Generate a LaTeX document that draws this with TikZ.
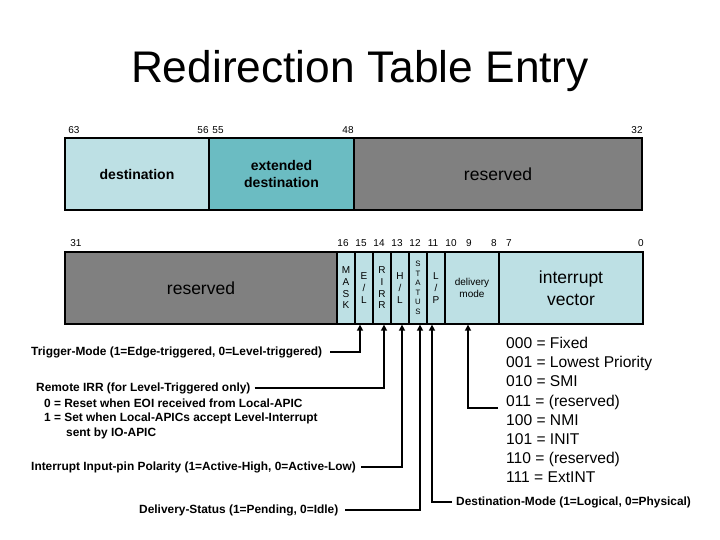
\documentclass[tikz,border=0pt]{standalone}
\usepackage{fontspec}
\setmainfont{Liberation Sans}
\usetikzlibrary{arrows.meta}
\definecolor{lightfld}{RGB}{189,224,228}
\definecolor{tealfld}{RGB}{107,188,194}
\definecolor{grayfld}{RGB}{128,128,128}
\begin{document}
\begin{tikzpicture}[x=1pt,y=-1pt,
  fld/.style={draw=black,line width=1.3pt,inner sep=0pt,align=center,minimum height=72pt},
  bitno/.style={font=\fontsize{10}{12}\selectfont,inner sep=0pt},
  bitlet/.style={font=\fontsize{10}{11.7}\selectfont,align=center,inner sep=0pt},
  lbl/.style={font=\bfseries\fontsize{11.9}{14.6}\selectfont,inner sep=0pt,anchor=west,align=left},
  legend/.style={font=\fontsize{15.6}{19}\selectfont,inner sep=0pt,anchor=base west},
  conn/.style={line width=1.5pt,-{Triangle[length=6pt,width=6pt]}}]
\useasboundingbox (0,0) rectangle (720,540);

\node[font=\fontsize{44.3}{50}\selectfont,inner sep=0pt] (title) at (360,71) {Redirection Table Entry};

% top row
\node[fld,fill=lightfld,minimum width=144pt,font=\bfseries\fontsize{14}{17}\selectfont] (dest) at (137,174) {destination};
\node[fld,fill=tealfld,minimum width=145pt,font=\bfseries\fontsize{14}{17}\selectfont] (ext) at (281.5,174) {extended\\destination};
\node[fld,fill=grayfld,minimum width=288pt,font=\fontsize{17.5}{22}\selectfont] (resvtop) at (498,174) {reserved};

\node[bitno] (b63) at (74,130) {63};
\node[bitno] (b56) at (203,130) {56};
\node[bitno] (b55) at (218,130) {55};
\node[bitno] (b48) at (348,130) {48};
\node[bitno] (b32) at (637,130) {32};

% bottom row
\node[fld,fill=grayfld,minimum width=272pt,font=\fontsize{17.5}{22}\selectfont] (resvbot) at (201,288) {reserved};
\node[fld,fill=lightfld,minimum width=18pt,bitlet] (mask) at (346,288) {M\\A\\S\\K};
\node[fld,fill=lightfld,minimum width=18pt,bitlet] (el) at (364,288) {E\\/\\L};
\node[fld,fill=lightfld,minimum width=18pt,bitlet] (rirr) at (382,288) {R\\I\\R\\R};
\node[fld,fill=lightfld,minimum width=18pt,bitlet] (hl) at (400,288) {H\\/\\L};
\node[fld,fill=lightfld,minimum width=18pt,bitlet,font=\fontsize{7.8}{9.5}\selectfont] (status) at (418,288) {S\\T\\A\\T\\U\\S};
\node[fld,fill=lightfld,minimum width=18pt,bitlet] (lp) at (436,288) {L\\/\\P};
\node[fld,fill=lightfld,minimum width=54pt,font=\fontsize{10}{12}\selectfont] (dm) at (472,288) {delivery\\mode};
\node[fld,fill=lightfld,minimum width=144pt,font=\fontsize{17.5}{22}\selectfont] (vec) at (571,288) {interrupt\\vector};

\node[bitno] (b31) at (76,243) {31};
\node[bitno] (b16) at (343,243) {16};
\node[bitno] (b15) at (361,243) {15};
\node[bitno] (b14) at (379,243) {14};
\node[bitno] (b13) at (397,243) {13};
\node[bitno] (b12) at (415,243) {12};
\node[bitno] (b11) at (433,243) {11};
\node[bitno] (b10) at (451,243) {10};
\node[bitno] (b9) at (469,243) {9};
\node[bitno] (b8) at (494,243) {8};
\node[bitno] (b7) at (509,243) {7};
\node[bitno] (b0) at (641,243) {0};

% labels
\node[lbl] (trig) at (31,352) {Trigger-Mode (1=Edge-triggered, 0=Level-triggered)};
\node[lbl] (rirrlbl) at (36,388) {Remote IRR (for Level-Triggered only)};
\node[lbl,anchor=north west] (rirrtxt) at (44,398.5) {0 = Reset when EOI received from Local-APIC\\1 = Set when Local-APICs accept Level-Interrupt\\\hspace*{22pt}sent by IO-APIC};
\node[lbl] (pol) at (31,467) {Interrupt Input-pin Polarity (1=Active-High, 0=Active-Low)};
\node[lbl] (dstat) at (139,510) {Delivery-Status (1=Pending, 0=Idle)};
\node[lbl] (dmode) at (456,502) {Destination-Mode (1=Logical, 0=Physical)};

% legend
\node[legend] (l000) at (506,348.5) {000 = Fixed};
\node[legend] (l001) at (506,367.7) {001 = Lowest Priority};
\node[legend] (l010) at (506,386.9) {010 = SMI};
\node[legend] (l011) at (506,406.1) {011 = (reserved)};
\node[legend] (l100) at (506,425.3) {100 = NMI};
\node[legend] (l101) at (506,444.5) {101 = INIT};
\node[legend] (l110) at (506,463.7) {110 = (reserved)};
\node[legend] (l111) at (506,482.9) {111 = ExtINT};
\coordinate (dmend) at (498,408);

% connectors
\draw[conn] ([xshift=8pt]trig.east) -| ([xshift=-4pt]el.south);
\draw[conn] ([xshift=4pt]rirrlbl.east) -| ([xshift=2pt]rirr.south);
\draw[conn] ([xshift=5pt]pol.east) -| ([xshift=2pt]hl.south);
\draw[conn] ([xshift=7pt]dstat.east) -| ([xshift=2pt]status.south);
\draw[conn] ([xshift=-4pt]dmode.west) -| ([xshift=-4pt]lp.south);
\draw[conn] (dmend) -| ([xshift=-4pt]dm.south);
\end{tikzpicture}
\end{document}
